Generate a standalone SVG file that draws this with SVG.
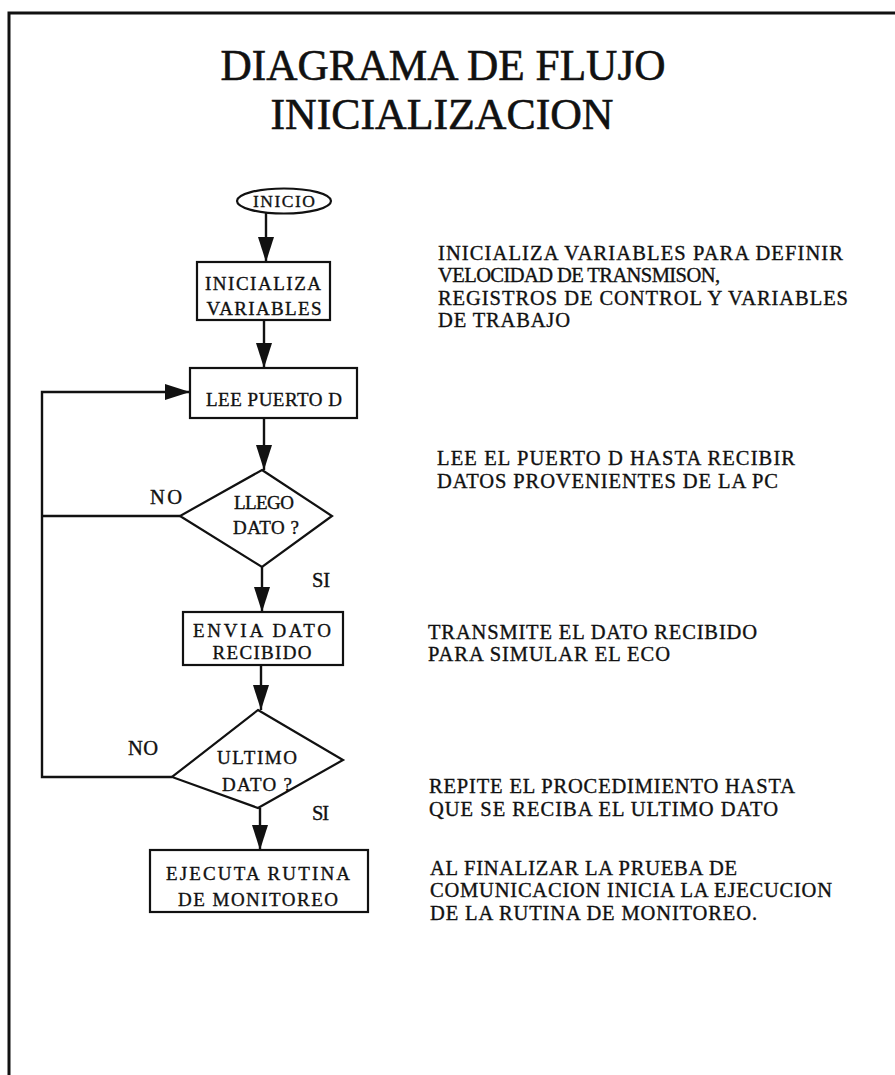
<svg xmlns="http://www.w3.org/2000/svg" width="895" height="1075" viewBox="0 0 895 1075">
<style>
  .t{font-family:"Liberation Serif","Times New Roman",serif;fill:#111;stroke:#111;stroke-width:0.35;}
  .title{font-size:45px;text-anchor:middle;stroke-width:0.6;}
  .n{font-size:19px;text-anchor:middle;}
  .d{font-size:20.5px;}
  .shape{fill:none;stroke:#111;stroke-width:2.2;}
  .c{fill:none;stroke:#111;stroke-width:2.4;}
  .border{fill:none;stroke:#111;stroke-width:3;}
</style>
<defs>
  <marker id="ah" markerUnits="userSpaceOnUse" markerWidth="25" markerHeight="16" viewBox="0 0 25 16" refX="25" refY="8" orient="auto">
    <path d="M0,0 L25,8 L0,16 Z" fill="#111"/>
  </marker>
</defs>
<rect width="895" height="1075" fill="#fff"/>
<g id="border">
  <path class="border" d="M9,1075 L9,13 L895,13"/>
</g>
<g id="title">
  <text class="t title" x="443" y="80" textLength="445" lengthAdjust="spacingAndGlyphs">DIAGRAMA DE FLUJO</text>
  <text class="t title" x="442" y="129" textLength="343" lengthAdjust="spacingAndGlyphs">INICIALIZACION</text>
</g>
<g id="connectors">
  <line class="c" x1="266" y1="213" x2="266" y2="262" marker-end="url(#ah)"/>
  <line class="c" x1="264" y1="320" x2="264" y2="368" marker-end="url(#ah)"/>
  <line class="c" x1="264" y1="418" x2="264" y2="470" marker-end="url(#ah)"/>
  <line class="c" x1="262" y1="567" x2="262" y2="612" marker-end="url(#ah)"/>
  <line class="c" x1="261" y1="665" x2="261" y2="710" marker-end="url(#ah)"/>
  <line class="c" x1="260" y1="808" x2="260" y2="850" marker-end="url(#ah)"/>
  <path class="c" d="M180,516 L42,516"/>
  <path class="c" d="M172,777 L42,777 L42,392 L190,392" marker-end="url(#ah)"/>
  <text class="t d" x="150" y="504" textLength="32">NO</text>
  <text class="t d" x="312" y="587" textLength="18">SI</text>
  <text class="t d" x="128" y="755" textLength="30">NO</text>
  <text class="t d" x="312" y="820" textLength="17">SI</text>
</g>
<g id="inicio">
  <ellipse class="shape" cx="284" cy="201" rx="47" ry="12.5"/>
  <text class="t n" x="284" y="207" textLength="62" style="font-size:17.5px">INICIO</text>
</g>
<g id="inicializa">
  <rect class="shape" x="197" y="262" width="133" height="58"/>
  <text class="t n" x="263" y="290" textLength="116">INICIALIZA</text>
  <text class="t n" x="264" y="315" textLength="115">VARIABLES</text>
</g>
<g id="lee">
  <rect class="shape" x="190" y="368" width="167" height="50"/>
  <text class="t n" x="274" y="406" textLength="136">LEE PUERTO D</text>
</g>
<g id="llego">
  <polygon class="shape" points="262,470 332,516 262,567 180,516"/>
  <text class="t n" x="264" y="509" textLength="60">LLEGO</text>
  <text class="t n" x="266" y="534" textLength="66">DATO ?</text>
</g>
<g id="envia">
  <rect class="shape" x="183" y="612" width="160" height="53"/>
  <text class="t n" x="262" y="637" textLength="138">ENVIA DATO</text>
  <text class="t n" x="262" y="659" textLength="99">RECIBIDO</text>
</g>
<g id="ultimo">
  <polygon class="shape" points="258,710 343,760 258,808 172,777"/>
  <text class="t n" x="257" y="764" textLength="80">ULTIMO</text>
  <text class="t n" x="257" y="791" textLength="70">DATO ?</text>
</g>
<g id="ejecuta">
  <rect class="shape" x="150" y="850" width="218" height="62"/>
  <text class="t n" x="258" y="880" textLength="184">EJECUTA RUTINA</text>
  <text class="t n" x="258" y="906" textLength="160">DE MONITOREO</text>
</g>
<g id="notes">
  <text class="t d" x="438" y="260" textLength="405">INICIALIZA VARIABLES PARA DEFINIR</text>
  <text class="t d" x="438" y="282" textLength="282">VELOCIDAD DE TRANSMISON,</text>
  <text class="t d" x="438" y="305" textLength="410">REGISTROS DE CONTROL Y VARIABLES</text>
  <text class="t d" x="438" y="327" textLength="132">DE TRABAJO</text>
  <text class="t d" x="437" y="465" textLength="358">LEE EL PUERTO D HASTA RECIBIR</text>
  <text class="t d" x="437" y="488" textLength="341">DATOS PROVENIENTES DE LA PC</text>
  <text class="t d" x="428" y="639" textLength="329">TRANSMITE EL DATO RECIBIDO</text>
  <text class="t d" x="428" y="661" textLength="242">PARA SIMULAR EL ECO</text>
  <text class="t d" x="429" y="793" textLength="366">REPITE EL PROCEDIMIENTO HASTA</text>
  <text class="t d" x="429" y="816" textLength="349">QUE SE RECIBA EL ULTIMO DATO</text>
  <text class="t d" x="430" y="875" textLength="307">AL FINALIZAR LA PRUEBA DE</text>
  <text class="t d" x="430" y="897" textLength="402">COMUNICACION INICIA LA EJECUCION</text>
  <text class="t d" x="430" y="920" textLength="327">DE LA RUTINA DE MONITOREO.</text>
</g>
</svg>
